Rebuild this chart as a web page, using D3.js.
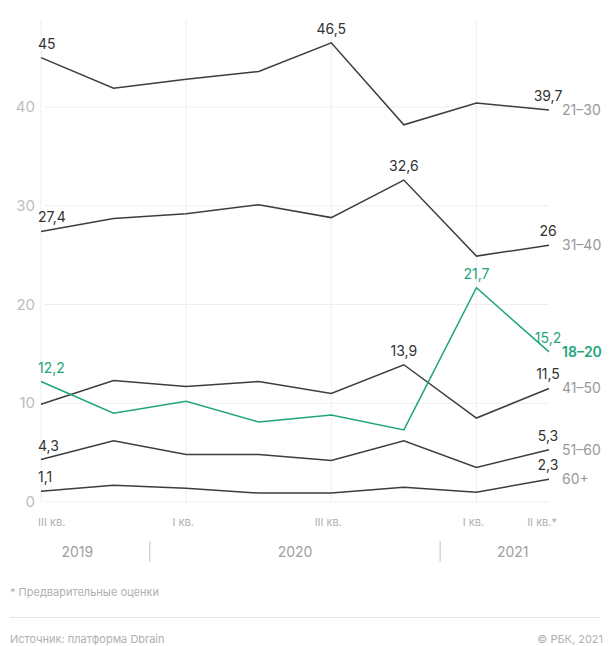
<!DOCTYPE html>
<html>
<head>
<meta charset="utf-8">
<script src="https://cdn.jsdelivr.net/npm/d3@7"></script>
<style>
  html, body { margin: 0; padding: 0; background: #fff; }
  svg { display: block; font-family: Inter, Roboto, "Noto Sans", sans-serif; }
</style>
</head>
<body>
<svg id="chart" width="611" height="646"></svg>
<script>
// Quarters: III 2019 .. II 2021
const quarters = ['2019Q3', '2019Q4', '2020Q1', '2020Q2', '2020Q3', '2020Q4', '2021Q1', '2021Q2'];
const quarterTicks = [
    { q: '2019Q3', label: 'III кв.' },
    { q: '2020Q1', label: 'I кв.' },
    { q: '2020Q3', label: 'III кв.' },
    { q: '2021Q1', label: 'I кв.' },
    { q: '2021Q2', label: 'II кв.*' }
];
const gridQuarters = ['2019Q3', '2020Q1', '2020Q3', '2021Q1'];
const years = [
    { label: '2019', from: '2019Q3', to: '2019Q4' },
    { label: '2020', from: '2020Q1', to: '2020Q4' },
    { label: '2021', from: '2021Q1', to: '2021Q2' }
];
const yTicks = [0, 10, 20, 30, 40];

const age21_30 = [45, 41.9, 42.8, 43.6, 46.5, 38.2, 40.4, 39.7];
const age31_40 = [27.4, 28.7, 29.2, 30.1, 28.8, 32.6, 24.9, 26];
const age18_20 = [12.2, 9.0, 10.2, 8.1, 8.8, 7.3, 21.7, 15.2];
const age41_50 = [9.9, 12.3, 11.7, 12.2, 11.0, 13.9, 8.5, 11.5];
const age51_60 = [4.3, 6.2, 4.8, 4.8, 4.2, 6.2, 3.5, 5.3];
const age60p = [1.1, 1.7, 1.4, 0.9, 0.9, 1.5, 1.0, 2.3];

// which points get a value label
const series = [
    { name: '21–30', values: age21_30, labeled: [0, 4, 7], color: '#333', nameColor: '#999', bold: false },
    { name: '31–40', values: age31_40, labeled: [0, 5, 7], color: '#333', nameColor: '#999', bold: false },
    { name: '41–50', values: age41_50, labeled: [5, 7], color: '#333', nameColor: '#999', bold: false },
    { name: '51–60', values: age51_60, labeled: [0, 7], color: '#333', nameColor: '#999', bold: false },
    { name: '60+', values: age60p, labeled: [0, 7], color: '#333', nameColor: '#999', bold: false },
    { name: '18–20', values: age18_20, labeled: [0, 6, 7], color: '#1fa57b', nameColor: '#1fa57b', bold: true }
];

const fmt = v => String(v).replace('.', ',');

const svg = d3.select('#chart');
const margin = { left: 41, right: 62 };

const x = d3.scalePoint()
    .domain(quarters)
    .range([margin.left, 611 - margin.right]);

const y = d3.scaleLinear()
    .domain([0, 40])
    .range([502, 107]);

// Grid
const grid = svg.append('g').attr('class', 'grid');
grid.selectAll('line.h')
    .data(yTicks)
    .enter()
    .append('line')
    .attr('class', 'h')
    .attr('x1', margin.left + 4)
    .attr('x2', x('2021Q2'))
    .attr('y1', d => y(d))
    .attr('y2', d => y(d))
    .attr('stroke', '#eeeeee')
    .attr('stroke-width', 1);

grid.selectAll('line.v')
    .data(gridQuarters)
    .enter()
    .append('line')
    .attr('class', 'v')
    .attr('x1', d => x(d))
    .attr('x2', d => x(d))
    .attr('y1', 20)
    .attr('y2', y(0))
    .attr('stroke', '#eeeeee')
    .attr('stroke-width', 1);

// Y axis labels
svg.append('g')
    .selectAll('text')
    .data(yTicks)
    .enter()
    .append('text')
    .attr('x', 35)
    .attr('y', d => y(d) + 5)
    .attr('text-anchor', 'end')
    .attr('fill', '#bdbdbd')
    .attr('font-size', 15)
    .text(d => d);

// X axis quarter labels
const lastQ = quarters[quarters.length - 1];
svg.append('g')
    .selectAll('text')
    .data(quarterTicks)
    .enter()
    .append('text')
    .attr('x', (d, i) => i === 0 ? x(d.q) - 3 : d.q === lastQ ? x(d.q) + 8 : x(d.q) - 3)
    .attr('y', 526)
    .attr('text-anchor', (d, i) => i === 0 ? 'start' : d.q === lastQ ? 'end' : 'middle')
    .attr('fill', '#b0b0b0')
    .attr('font-size', 11)
    .text(d => d.label);

// Years
const step = x.step();
const yearG = svg.append('g');
yearG.selectAll('text')
    .data(years)
    .enter()
    .append('text')
    .attr('x', d => (x(d.from) + x(d.to)) / 2)
    .attr('y', 557)
    .attr('text-anchor', 'middle')
    .attr('fill', '#a0a0a0')
    .attr('font-size', 14)
    .text(d => d.label);

yearG.selectAll('line')
    .data(years.slice(1))
    .enter()
    .append('line')
    .attr('x1', d => x(d.from) - step * 0.5)
    .attr('x2', d => x(d.from) - step * 0.5)
    .attr('y1', 541)
    .attr('y2', 562)
    .attr('stroke', '#c4c4c4')
    .attr('stroke-width', 1);

// Lines
const line = d3.line()
    .x((d, i) => x(quarters[i]))
    .y(d => y(d));

const lines = svg.append('g').attr('class', 'lines');
series.forEach(s => {
    lines.append('path')
        .datum(s.values)
        .attr('d', line)
        .attr('fill', 'none')
        .attr('stroke', s.bold ? s.color : '#3d3d3d')
        .attr('stroke-width', 1.5)
        .attr('stroke-linejoin', 'miter');
});

// Value labels
const labels = svg.append('g').attr('class', 'labels');
series.forEach(s => {
    s.labeled.forEach(i => {
        const last = i === quarters.length - 1;
        const first = i === 0;
        labels.append('text')
            .attr('x', x(quarters[i]) + (first ? -3 : last ? -1 : 0))
            .attr('y', y(s.values[i]) - 9)
            .attr('text-anchor', first ? 'start' : 'middle')
            .attr('fill', s.color)
            .attr('font-size', 14)
            .text(fmt(s.values[i]));
    });

    // series name at the end of the line
    labels.append('text')
        .attr('x', x(lastQ) + 13)
        .attr('y', y(s.values[s.values.length - 1]) + 5)
        .attr('fill', s.nameColor)
        .attr('font-size', 14)
        .attr('font-weight', s.bold ? 600 : 400)
        .text(s.name);
});

// Footnote and footer
svg.append('text')
    .attr('x', 10)
    .attr('y', 596)
    .attr('fill', '#b0b0b0')
    .attr('font-size', 11)
    .text('* Предварительные оценки');

svg.append('line')
    .attr('x1', 10)
    .attr('x2', 601)
    .attr('y1', 617.5)
    .attr('y2', 617.5)
    .attr('stroke', '#e6e6e6');

svg.append('text')
    .attr('x', 10)
    .attr('y', 643)
    .attr('fill', '#b0b0b0')
    .attr('font-size', 11)
    .text('Источник: платформа Dbrain');

svg.append('text')
    .attr('x', 603)
    .attr('y', 643)
    .attr('text-anchor', 'end')
    .attr('fill', '#b0b0b0')
    .attr('font-size', 11)
    .text('© РБК, 2021');
</script>
</body>
</html>
